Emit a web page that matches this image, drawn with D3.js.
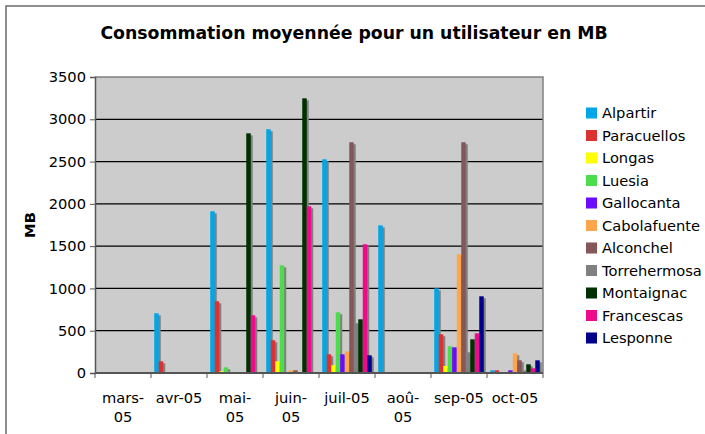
<!DOCTYPE html>
<html>
<head>
<meta charset="utf-8">
<script src="https://cdn.jsdelivr.net/npm/d3@7"></script>
<style>
  body { margin: 0; background: #fff; }
  svg { display: block; font-family: "DejaVu Sans", Verdana, sans-serif; }
</style>
</head>
<body>
<svg id="chart" width="705" height="434"></svg>
<script>
// Months on the x axis
const months = ["mars-05", "avr-05", "mai-05", "juin-05", "juil-05", "aoû-05", "sep-05", "oct-05"];
// Excel wraps some of the labels on two lines
const monthLabels = [["mars-", "05"], ["avr-05"], ["mai-", "05"], ["juin-", "05"], ["juil-05"], ["aoû-", "05"], ["sep-05"], ["oct-05"]];

const sites = ["Alpartir", "Paracuellos", "Longas", "Luesia", "Gallocanta", "Cabolafuente",
    "Alconchel", "Torrehermosa", "Montaignac", "Francescas", "Lesponne"];
const siteColors = ["#00a6e6", "#dc3131", "#ffff00", "#4cdc4c", "#6a0aff", "#ffa64d",
    "#875656", "#808080", "#003000", "#ee0a8a", "#00008c"];

// MB per month, one array per site
const alpartir     = [6, 706, 1912, 2882, 2527, 1746, 1001, 32];
const paracuellos  = [6, 138, 848, 387, 221, 0, 458, 32];
const longas       = [0, 0, 20, 138, 91, 0, 83, 8];
const luesia       = [0, 0, 67, 1273, 718, 0, 316, 0];
const gallocanta   = [0, 0, 0, 8, 221, 0, 304, 32];
const cabolafuente = [0, 0, 0, 32, 257, 0, 1403, 233];
const alconchel    = [0, 0, 0, 32, 2728, 0, 2728, 150];
const torrehermosa = [0, 0, 0, 0, 588, 0, 245, 30];
const montaignac   = [0, 8, 2834, 3248, 635, 0, 398, 103];
const francescas   = [0, 0, 682, 1971, 1522, 0, 469, 55];
const lesponne     = [0, 0, 0, 0, 209, 0, 907, 150];

const yTicks = [0, 500, 1000, 1500, 2000, 2500, 3000, 3500];

const seriesValues = [alpartir, paracuellos, longas, luesia, gallocanta, cabolafuente,
    alconchel, torrehermosa, montaignac, francescas, lesponne];

const svg = d3.select("#chart");
const plot = {left: 95, right: 543, top: 77, bottom: 373};
const fontSize = "14.67px";

// outer chart frame (cropped on right and bottom in the original)
svg.append("path")
    .attr("d", "M6,440 L6,6 L710,6")
    .attr("fill", "none")
    .attr("stroke", "#6a6a6a")
    .attr("stroke-width", 1.5);

// Title
svg.append("text")
    .attr("x", 354)
    .attr("y", 39)
    .attr("text-anchor", "middle")
    .attr("font-size", "17.3px")
    .attr("font-weight", "bold")
    .text("Consommation moyennée pour un utilisateur en MB");

const x0 = d3.scaleBand().domain(months).range([plot.left, plot.right]).padding(0);
const x1 = d3.scaleBand().domain(sites).range([0, x0.bandwidth()]).paddingInner(0).paddingOuter(0.72);
const y = d3.scaleLinear().domain([0, 3500]).range([plot.bottom, plot.top]);

// plot background
svg.append("rect")
    .attr("x", plot.left).attr("y", plot.top)
    .attr("width", plot.right - plot.left).attr("height", plot.bottom - plot.top)
    .attr("fill", "#cccccc");

// gridlines
svg.append("g").selectAll("line")
    .data(yTicks.filter(t => t > 0 && t < 3500))
    .enter().append("line")
    .attr("x1", plot.left).attr("x2", plot.right)
    .attr("y1", d => y(d)).attr("y2", d => y(d))
    .attr("stroke", "#000")
    .attr("stroke-width", 1.2);

// plot border
svg.append("path")
    .attr("d", `M${plot.left},${plot.top} L${plot.right},${plot.top} L${plot.right},${plot.bottom}`)
    .attr("fill", "none")
    .attr("stroke", "#808080")
    .attr("stroke-width", 1.5);

// bars: shadow first, then the coloured bar
const barData = [];
seriesValues.forEach((vals, s) => {
    vals.forEach((v, m) => barData.push({site: sites[s], color: siteColors[s], month: months[m], value: v}));
});
const nonZero = barData.filter(d => d.value > 0);

svg.append("g").selectAll("rect")
    .data(nonZero)
    .enter().append("rect")
    .attr("x", d => x0(d.month) + x1(d.site) + 2)
    .attr("y", d => Math.min(y(d.value) + 2, y(0)))
    .attr("width", x1.bandwidth())
    .attr("height", d => Math.max(0, y(0) - y(d.value) - 2))
    .attr("fill", "#808080");

svg.append("g").selectAll("rect")
    .data(nonZero)
    .enter().append("rect")
    .attr("x", d => x0(d.month) + x1(d.site))
    .attr("y", d => y(d.value))
    .attr("width", x1.bandwidth())
    .attr("height", d => y(0) - y(d.value))
    .attr("fill", d => d.color);

// Y axis
const yAxis = d3.axisLeft(y).tickValues(yTicks).tickFormat(d3.format("d")).tickSize(5).tickPadding(4);
const gy = svg.append("g")
    .attr("transform", `translate(${plot.left},0)`)
    .call(yAxis);
gy.select(".domain").attr("stroke", "#555").attr("stroke-width", 1.5);
gy.selectAll(".tick line").attr("stroke", "#555");
gy.selectAll(".tick text")
    .attr("font-size", fontSize)
    .attr("font-family", "DejaVu Sans, Verdana, sans-serif")
    .attr("fill", "#000");

// X axis (ticks between categories)
svg.append("line")
    .attr("x1", plot.left).attr("x2", plot.right)
    .attr("y1", plot.bottom).attr("y2", plot.bottom)
    .attr("stroke", "#555")
    .attr("stroke-width", 2);
svg.append("g").selectAll("line")
    .data(months.concat(["end"]))
    .enter().append("line")
    .attr("x1", (d, i) => plot.left + i * x0.bandwidth())
    .attr("x2", (d, i) => plot.left + i * x0.bandwidth())
    .attr("y1", plot.bottom).attr("y2", plot.bottom + 5)
    .attr("stroke", "#555");

const xl = svg.append("g").selectAll("text")
    .data(months)
    .enter().append("text")
    .attr("x", d => x0(d) + x0.bandwidth() / 2)
    .attr("y", 403)
    .attr("text-anchor", "middle")
    .attr("font-size", fontSize);
xl.each(function (d, i) {
    monthLabels[i].forEach((line, j) => {
        d3.select(this).append("tspan")
            .attr("x", x0(d) + x0.bandwidth() / 2)
            .attr("dy", j === 0 ? 0 : 19)
            .text(line);
    });
});

// Y axis title
svg.append("text")
    .attr("transform", "translate(35,225) rotate(-90)")
    .attr("text-anchor", "middle")
    .attr("font-size", fontSize)
    .attr("font-weight", "bold")
    .text("MB");

// Legend
const legend = svg.append("g").selectAll("g")
    .data(sites)
    .enter().append("g")
    .attr("transform", (d, i) => `translate(586,${113 + i * 22.5})`);
legend.append("rect")
    .attr("x", 0).attr("y", -5.5)
    .attr("width", 11).attr("height", 11)
    .attr("fill", (d, i) => siteColors[i]);
legend.append("text")
    .attr("x", 16)
    .attr("y", 0)
    .attr("dy", "0.36em")
    .attr("font-size", fontSize)
    .text(d => d);
</script>
</body>
</html>
